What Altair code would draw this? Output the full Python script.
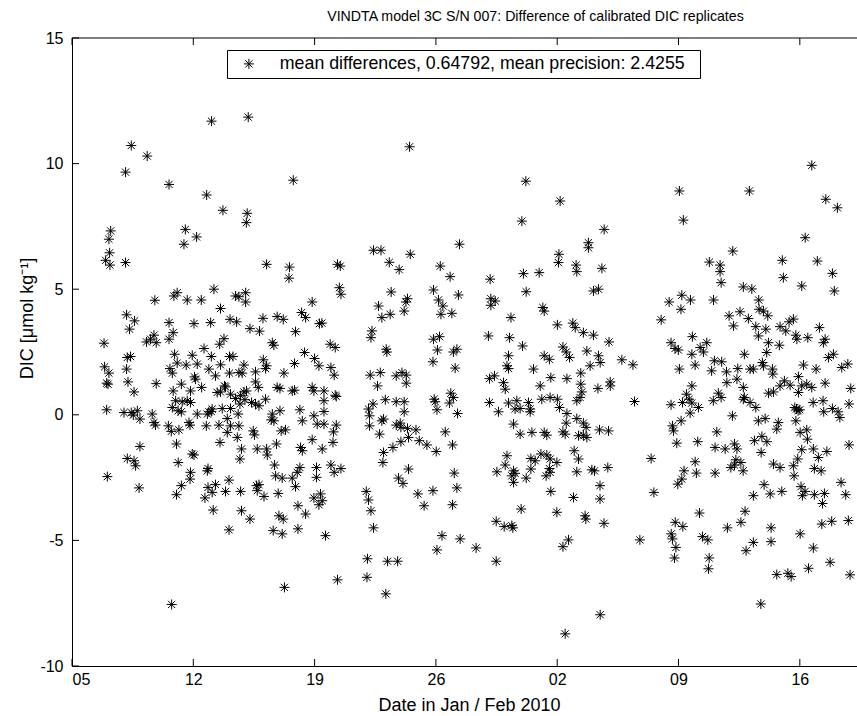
import altair as alt
import pandas as pd

TITLE = "VINDTA model 3C S/N 007: Difference of calibrated DIC replicates"
LEGEND_LABEL = "mean differences, 0.64792, mean precision: 2.4255"
X_TITLE = "Date in Jan / Feb 2010"
Y_TITLE = "DIC [\u03bcmol kg\u207b\u00b9]"

# tick positions (day of year 2010; Jan 5 = 5, Feb 2 = 33)
x_tick_days = [5, 12, 19, 26, 33, 40, 47]
y_ticks = [-10, -5, 0, 5, 10, 15]
x_domain = [5, 50.3]
y_domain = [-10, 15]

# (day of year 2010, DIC difference)
pts_high_left = [(13.05, 11.69), (15.17, 11.85), (8.42, 10.72), (9.34, 10.30), (8.09, 9.66), (10.60, 9.17),
                 (17.77, 9.34), (12.77, 8.75), (13.71, 8.14), (15.11, 8.02), (15.06, 7.65), (7.23, 7.32),
                 (7.13, 6.99), (7.17, 6.45), (6.94, 6.15), (7.19, 5.96), (8.09, 6.06), (11.54, 7.38),
                 (11.46, 6.79), (12.19, 7.08), (16.23, 5.99), (17.55, 5.88), (17.52, 5.44)]
pts_high_mid = [(24.48, 10.67), (31.19, 9.30), (33.17, 8.51), (30.96, 7.71), (20.32, 5.99), (20.48, 5.92),
                (22.40, 6.55), (22.83, 6.55), (23.31, 6.07), (23.88, 5.78), (24.52, 6.39), (27.36, 6.79),
                (26.25, 5.92), (26.82, 5.50), (29.13, 5.40), (31.05, 5.62), (31.96, 5.66), (33.10, 6.39),
                (33.07, 6.06), (34.09, 5.96), (34.13, 5.70), (34.80, 6.85), (34.80, 6.65)]
pts_high_right = [(35.71, 7.38), (35.58, 5.83), (35.38, 5.00), (40.05, 8.91), (40.28, 7.75), (44.09, 8.91),
                  (47.69, 9.93), (48.50, 8.58), (49.17, 8.24), (43.13, 6.52), (41.78, 6.08), (42.40, 5.96),
                  (42.40, 5.70), (42.46, 5.26), (45.99, 6.15), (46.05, 5.46), (48.01, 6.12), (47.31, 7.05),
                  (48.88, 5.63), (47.11, 5.13), (43.74, 5.09), (44.23, 5.01), (48.99, 4.93)]
pts_mid_left = [(9.78, 4.56), (10.88, 4.73), (11.07, 4.86), (11.65, 4.57), (12.46, 4.57), (13.19, 5.00),
                (13.57, 4.23), (14.44, 4.73), (14.63, 4.70), (15.02, 4.86), (15.02, 4.49), (18.86, 4.49),
                (8.15, 3.98), (8.61, 3.74), (8.32, 3.41), (6.85, 2.85), (9.73, 3.17), (9.53, 3.01),
                (9.30, 2.90), (9.86, 2.87), (10.60, 3.67), (10.84, 3.27), (10.60, 3.01), (12.04, 3.63),
                (13.00, 3.67), (14.12, 3.80), (14.50, 3.70), (15.27, 3.43), (15.82, 3.33), (16.02, 3.84),
                (16.84, 3.91), (17.19, 3.80), (17.90, 3.31), (18.25, 4.07), (18.48, 3.87), (19.28, 3.63),
                (13.52, 2.81), (13.77, 3.03), (12.62, 2.64), (16.56, 2.87), (16.65, 2.77), (6.88, 1.91),
                (7.13, 1.66), (7.00, 1.26), (7.08, 1.22), (8.19, 2.28), (8.38, 2.32), (8.15, 1.82),
                (8.23, 1.31), (8.58, 0.91), (9.86, 1.24), (10.92, 2.41), (11.07, 2.06), (10.65, 1.84),
                (10.79, 1.66), (11.59, 1.98), (11.94, 2.37), (12.23, 2.02), (13.04, 2.32), (12.90, 1.82),
                (13.28, 1.55), (13.57, 1.99), (14.09, 2.32), (14.29, 2.32), (14.09, 1.66), (14.63, 1.68),
                (14.82, 1.66), (14.92, 1.98), (15.59, 1.71), (16.04, 2.19), (16.23, 1.95), (16.17, 1.84),
                (17.23, 1.66), (17.84, 2.04), (18.42, 2.48), (19.00, 2.24), (19.25, 1.95), (12.07, 1.51),
                (12.13, 1.42), (11.31, 1.22), (12.48, 1.09), (10.84, 0.95), (11.84, 0.95), (13.80, 1.15),
                (13.86, 1.11), (13.57, 0.91), (13.38, 0.89), (14.92, 0.91), (15.07, 0.95), (15.59, 1.31),
                (15.75, 1.09), (16.84, 1.09), (17.00, 1.05), (17.71, 0.95), (17.84, 0.98), (18.86, 1.09),
                (18.96, 0.95), (19.54, 0.95), (16.17, 0.62), (10.98, 0.56), (11.36, 0.52), (11.65, 0.56),
                (11.84, 0.49), (10.79, 0.29), (11.12, 0.16), (11.31, 0.12), (14.15, 0.82), (14.44, 0.65),
                (14.73, 0.76), (14.98, 0.60), (14.69, 0.43), (15.36, 0.49), (15.59, 0.43), (15.79, 0.36),
                (13.09, 0.23), (12.90, 0.12), (13.67, 0.25), (14.15, 0.25), (19.54, 0.56), (7.00, 0.20),
                (8.00, 0.09), (8.42, 0.09), (8.54, -0.01), (8.77, 0.16), (8.92, -0.17), (9.63, 0.03),
                (9.73, -0.31), (9.82, -0.41), (10.56, -0.44), (10.73, -0.66), (11.17, -0.60), (11.75, -0.31),
                (11.81, -0.41), (12.23, 0.03), (12.81, 0.03), (13.04, 0.13), (12.75, -0.44), (13.48, -0.41),
                (13.96, -0.15), (13.96, -0.70), (14.15, -0.44), (14.59, 0.03), (14.63, -0.44), (14.54, -0.90),
                (15.46, -0.64), (15.53, -0.80), (16.56, 0.03), (16.65, -0.24), (16.50, -0.20), (17.00, 0.16),
                (17.07, -0.64), (17.32, -0.60), (18.15, 0.20), (18.29, -0.24), (18.96, -0.04), (19.15, -0.37),
                (19.54, -0.37), (19.54, 0.13), (13.54, -1.10), (11.03, -1.16), (8.92, -1.26), (18.86, -0.99),
                (11.94, -1.56), (12.04, -1.60), (14.78, -1.36), (14.69, -1.76), (15.69, -1.36), (16.23, -1.36),
                (16.27, -1.60), (16.80, -1.16), (18.19, -1.30), (18.29, -1.43), (19.44, -1.36), (8.19, -1.74),
                (8.58, -1.83), (8.67, -2.03), (11.13, -1.90), (12.85, -2.14), (12.81, -2.23), (11.84, -2.29),
                (16.69, -2.00), (18.15, -2.10), (18.00, -2.29), (19.11, -2.10), (7.04, -2.46)]
pts_low_left = [(8.87, -2.91), (11.03, -3.18), (11.31, -2.82), (11.81, -2.56), (12.85, -2.89), (13.09, -3.09),
                (12.67, -3.31), (13.28, -2.78), (13.15, -3.79), (13.86, -3.05), (14.06, -2.60), (14.73, -3.05),
                (14.78, -3.82), (15.27, -4.15), (14.06, -4.58), (15.65, -2.82), (15.69, -3.02), (15.79, -2.78),
                (16.08, -3.25), (16.75, -2.43), (17.13, -2.52), (16.90, -3.13), (16.94, -4.02), (17.19, -4.15),
                (16.61, -4.61), (17.13, -4.74), (17.71, -2.52), (17.90, -2.86), (18.04, -3.62), (18.48, -3.95),
                (18.04, -4.54), (19.11, -2.49), (18.96, -3.31), (19.34, -3.15), (19.44, -3.42), (19.25, -3.58),
                (19.63, -4.81), (10.75, -7.55), (17.26, -6.87)]
pts_mid_center = [(20.43, 5.06), (20.52, 4.80), (23.42, 4.89), (24.36, 4.62), (24.27, 4.49), (22.69, 4.33),
                  (22.88, 3.87), (23.36, 4.00), (24.17, 4.13), (25.86, 4.97), (26.15, 4.57), (26.40, 4.33),
                  (26.29, 4.00), (26.92, 4.04), (27.30, 4.77), (29.17, 4.62), (29.42, 4.53), (29.17, 4.36),
                  (31.21, 4.90), (32.17, 4.27), (32.25, 4.13), (30.33, 3.87), (33.01, 3.58), (33.90, 3.65),
                  (34.04, 3.47), (34.51, 3.27), (19.42, 3.65), (22.31, 3.34), (22.25, 3.07), (19.90, 2.81),
                  (20.19, 2.68), (23.13, 2.61), (23.17, 2.50), (25.86, 3.01), (26.21, 3.11), (26.09, 2.58),
                  (27.01, 2.50), (27.21, 2.61), (25.83, 2.11), (27.11, 1.86), (29.03, 3.14), (30.25, 3.07),
                  (31.00, 2.74), (30.19, 2.35), (30.10, 1.95), (30.19, 1.84), (31.63, 1.82), (32.25, 2.35),
                  (32.55, 2.21), (33.33, 2.70), (33.52, 2.50), (33.71, 2.28), (34.71, 2.54), (19.94, 1.88),
                  (20.13, 1.58), (22.21, 1.58), (22.79, 1.68), (22.63, 1.15), (23.71, 1.55), (24.04, 1.68),
                  (24.29, 1.58), (24.29, 1.26), (20.19, 0.78), (20.25, 0.73), (20.09, -0.68), (20.25, -0.41),
                  (20.06, -1.10), (22.11, 0.23), (22.37, 0.43), (22.17, -0.04), (22.17, -0.44), (22.75, -0.77),
                  (23.08, 0.60), (22.88, -0.24), (22.98, -0.17), (23.71, 0.52), (24.17, 0.52), (24.17, 0.12),
                  (23.71, -0.41), (23.94, -0.33), (23.98, -0.50), (24.36, -0.54), (24.85, -0.60), (24.42, -0.90),
                  (23.98, -1.07), (23.52, -1.30), (25.04, -1.03), (25.48, -1.20), (26.02, -1.46), (22.98, -1.50),
                  (22.94, -1.90), (24.42, -2.16), (25.90, 0.62), (25.96, 0.52), (26.06, 0.20), (26.86, 0.86),
                  (27.01, 0.69), (26.78, 0.47), (27.25, 0.05), (26.54, -0.68), (26.96, -1.20), (29.09, 1.44),
                  (29.38, 1.55), (29.90, 1.28), (30.00, 1.02), (29.09, 0.49), (29.61, 0.12), (30.19, 0.47),
                  (30.67, 0.56), (30.86, 0.25), (30.57, 0.23), (31.34, 0.49), (31.44, 0.23), (31.44, 0.12),
                  (32.11, 0.62), (32.59, 0.69), (33.01, 0.62), (33.13, 0.29), (32.02, 1.15), (32.63, 1.48),
                  (33.56, 1.44), (34.13, 0.56), (34.32, 0.69), (34.42, 0.91), (34.36, 1.22), (34.36, 1.66),
                  (33.56, 0.05), (33.52, -0.33), (34.13, -0.15), (34.51, -0.33), (30.48, -0.37), (30.86, -0.77),
                  (31.54, -0.70), (32.25, -0.70), (32.40, -0.81), (33.33, -0.68), (33.46, -0.77), (34.23, -0.83),
                  (34.51, -0.81), (33.98, -1.43), (34.23, -1.76), (30.10, -1.63), (30.00, -2.00), (31.48, -1.74),
                  (31.73, -1.83), (32.06, -1.56), (32.40, -1.60), (32.59, -1.76), (32.98, -1.90), (32.55, -2.14),
                  (31.48, -2.16), (30.48, -2.23), (29.52, -2.27), (34.13, -2.27), (19.94, -2.00), (20.52, -2.14),
                  (20.13, -2.29), (27.06, -2.32)]
pts_low_center = [(21.98, -3.05), (22.11, -3.39), (22.25, -3.82), (22.40, -4.50), (23.84, -2.52), (24.10, -2.73),
                  (24.96, -3.15), (25.32, -3.62), (25.83, -3.02), (27.21, -2.91), (26.96, -3.58), (26.35, -4.81),
                  (26.06, -5.38), (27.40, -4.94), (28.32, -5.30), (22.05, -5.73), (23.21, -5.83), (23.79, -5.83),
                  (20.32, -6.57), (22.02, -6.47), (23.11, -7.13), (29.48, -5.83), (29.48, -4.24), (29.94, -4.45),
                  (30.44, -4.50), (30.38, -4.41), (30.92, -3.75), (30.38, -2.43), (30.48, -2.69), (30.57, -2.33),
                  (31.21, -2.52), (32.36, -2.43), (32.59, -2.29), (32.63, -3.05), (32.98, -3.88), (33.94, -3.29),
                  (34.61, -4.02), (34.65, -4.15), (33.65, -4.98), (33.33, -5.25), (33.46, -8.72)]
pts_mid_right = [(35.09, 4.93), (40.19, 4.76), (39.46, 4.49), (40.14, 4.20), (40.69, 4.57), (42.02, 4.57),
                 (44.63, 4.57), (39.00, 3.78), (42.92, 3.94), (43.17, 3.54), (43.55, 4.10), (44.03, 3.83),
                 (44.65, 4.20), (44.90, 4.13), (45.15, 3.94), (44.46, 3.51), (44.61, 3.14), (45.04, 3.41),
                 (45.86, 3.51), (46.19, 3.34), (46.38, 3.70), (46.63, 3.81), (46.77, 3.17), (46.83, 3.01),
                 (47.46, 3.07), (48.13, 3.47), (48.46, 3.01), (48.36, 2.87), (45.19, 2.87), (45.82, 2.77),
                 (45.09, 2.48), (35.09, 3.17), (35.99, 2.90), (35.38, 2.35), (35.48, 2.08), (34.90, 1.95),
                 (36.73, 2.19), (37.37, 1.99), (39.57, 2.87), (39.80, 2.64), (39.99, 2.58), (40.80, 3.11),
                 (41.25, 2.68), (41.44, 2.50), (41.63, 2.87), (40.77, 2.41), (43.80, 2.41), (48.94, 2.41),
                 (48.65, 2.28), (40.96, 1.98), (40.05, 1.82), (42.07, 2.15), (42.49, 2.11), (41.91, 1.75),
                 (42.77, 1.71), (43.42, 1.84), (42.79, 1.28), (43.37, 1.42), (44.13, 1.82), (44.32, 1.82),
                 (44.84, 2.08), (44.90, 1.95), (45.42, 1.82), (45.44, 1.62), (47.21, 1.98), (47.94, 1.82),
                 (49.42, 1.88), (49.77, 2.02), (46.92, 1.52), (48.46, 1.26), (49.94, 1.05), (36.06, 1.31),
                 (36.06, 1.15), (35.35, 1.05), (37.46, 0.53), (40.77, 1.15), (40.46, 0.82), (40.61, 0.62),
                 (40.77, 0.47), (40.23, 0.49), (39.57, 0.40), (41.15, 0.29), (40.67, 0.07), (40.15, -0.24),
                 (39.65, -0.44), (39.71, -0.64), (42.01, 0.56), (42.30, 0.86), (42.46, 0.69), (43.74, 1.09),
                 (43.80, 0.69), (44.13, 0.49), (44.46, 0.29), (43.74, 0.62), (45.19, 0.86), (45.48, 0.91),
                 (45.86, 1.15), (46.11, 1.35), (46.44, 1.18), (46.92, 0.89), (47.11, 1.15), (47.40, 1.22),
                 (47.69, 1.09), (46.71, 0.29), (46.90, 0.16), (46.81, 0.23), (47.00, 0.20), (47.77, 0.49),
                 (48.34, 0.56), (48.38, 0.12), (48.88, 0.25), (49.21, 0.12), (49.31, -0.11), (49.84, 0.43),
                 (46.77, -0.24), (47.40, -0.60), (47.44, -0.97), (47.02, -0.70), (43.11, -0.04), (44.61, -0.24),
                 (45.00, -0.15), (45.67, -0.57), (45.76, -0.31), (42.21, -0.68), (35.44, -0.60), (35.96, -0.64),
                 (34.67, -0.50), (34.71, -0.90), (39.90, -1.13), (41.11, -1.07), (42.11, -1.30), (42.69, -1.36),
                 (43.23, -1.16), (43.37, -1.36), (43.31, -1.79), (43.23, -2.00), (44.38, -1.03), (44.81, -0.86),
                 (45.10, -1.07), (44.77, -1.50), (47.11, -1.39), (47.78, -1.36), (48.07, -1.70), (48.56, -1.46),
                 (49.84, -1.20), (38.42, -1.74), (40.96, -1.87), (35.00, -2.19), (35.15, -2.23), (35.92, -2.10),
                 (40.32, -2.23), (41.03, -2.32), (42.11, -2.32), (43.02, -2.10), (43.60, -1.90), (43.73, -2.23),
                 (45.48, -1.96), (45.86, -2.10), (46.63, -2.03), (46.88, -1.76), (47.84, -2.14), (48.23, -2.23)]
pts_low_right = [(35.47, -2.82), (35.47, -3.35), (35.70, -4.32), (38.58, -3.09), (37.77, -4.98), (40.19, -2.56),
                 (39.96, -2.76), (41.21, -3.91), (39.81, -4.28), (40.25, -4.45), (39.58, -4.74), (39.65, -4.94),
                 (39.85, -5.28), (39.77, -5.70), (41.38, -4.85), (41.69, -4.98), (41.77, -5.70), (41.73, -6.13),
                 (42.82, -4.50), (43.60, -4.28), (43.84, -3.84), (44.32, -3.22), (44.94, -2.78), (45.29, -3.15),
                 (45.96, -3.05), (43.90, -5.41), (44.32, -5.08), (45.34, -4.50), (45.34, -5.05), (46.67, -2.43),
                 (47.07, -2.86), (47.30, -3.05), (47.15, -3.22), (47.84, -3.18), (48.42, -3.13), (48.31, -3.53),
                 (49.38, -2.69), (49.65, -3.18), (47.02, -4.74), (48.27, -4.35), (48.84, -4.24), (49.80, -4.21),
                 (47.78, -5.30), (48.75, -5.87), (45.67, -6.36), (46.31, -6.31), (46.50, -6.44), (47.50, -6.11),
                 (49.90, -6.37), (44.75, -7.53), (35.48, -7.96)]

blocks = [pts_high_left, pts_high_mid, pts_high_right, pts_mid_left, pts_low_left,
          pts_mid_center, pts_low_center, pts_mid_right, pts_low_right]
rows = [{"day": d, "dic": v, "series": LEGEND_LABEL} for b in blocks for d, v in b]
df = pd.DataFrame(rows)

W, H = 785, 628
FONT = "Liberation Sans"
STAR = "M-1,0L1,0M0,-1L0,1M-0.72,-0.72L0.72,0.72M-0.72,0.72L0.72,-0.72"

xscale = alt.Scale(domain=x_domain, nice=False, zero=False)
yscale = alt.Scale(domain=y_domain, nice=False, zero=False)

xaxis = alt.Axis(values=x_tick_days, ticks=False, grid=False, domain=True,
                 domainColor="black", domainWidth=1,
                 labelExpr="timeFormat(datetime(2010, 0, datum.value), '%d')",
                 labelFont=FONT, labelFontSize=16, labelColor="black", labelPadding=5,
                 title=X_TITLE, titleFont=FONT, titleFontSize=18, titleFontWeight="normal",
                 titleColor="black", titleX=397, titleY=44, titleBaseline="alphabetic",
                 titleAlign="center")
yaxis = alt.Axis(values=y_ticks, ticks=False, grid=False, domain=True,
                 domainColor="black", domainWidth=1,
                 labelExpr="'' + datum.value",
                 labelFont=FONT, labelFontSize=16, labelColor="black", labelPadding=9,
                 title=Y_TITLE, titleFont=FONT, titleFontSize=18, titleFontWeight="normal",
                 titleColor="black", titleX=-45, titleY=280, titleAlign="center",
                 titleBaseline="middle", titleAngle=270)

points = alt.Chart(df).mark_point(
    shape=STAR, filled=False, size=100, strokeWidth=1, opacity=1
).encode(
    x=alt.X("day:Q", scale=xscale, axis=xaxis),
    y=alt.Y("dic:Q", scale=yscale, axis=yaxis),
    color=alt.Color("series:N", scale=alt.Scale(range=["black"]),
                    legend=alt.Legend(title=None, orient="none", legendX=155, legendY=12,
                                      strokeColor="black", fillColor="white", padding=5,
                                      symbolType=STAR, symbolSize=100, symbolStrokeWidth=1,
                                      symbolFillColor="transparent", symbolStrokeColor="black",
                                      symbolOffset=8, labelOffset=22, labelLimit=700,
                                      labelExpr="datum.label + '\u00a0\u00a0\u200b'",
                                      labelFont=FONT, labelFontSize=17.8, labelColor="black")),
)

xt = pd.DataFrame({"day": x_tick_days})
yt = pd.DataFrame({"dic": y_ticks})
one = pd.DataFrame({"k": [0]})

bottom_ticks = alt.Chart(xt).mark_rule(color="black", strokeWidth=1).encode(
    x=alt.X("day:Q", scale=xscale, axis=xaxis), y=alt.value(H), y2=alt.value(H - 7))
top_ticks = alt.Chart(xt).mark_rule(color="black", strokeWidth=1).encode(
    x=alt.X("day:Q", scale=xscale, axis=xaxis), y=alt.value(0), y2=alt.value(7))
left_ticks = alt.Chart(yt).mark_rule(color="black", strokeWidth=1).encode(
    y=alt.Y("dic:Q", scale=yscale, axis=yaxis), x=alt.value(0), x2=alt.value(7))
top_border = alt.Chart(one).mark_rule(color="black", strokeWidth=1).encode(
    x=alt.value(0), x2=alt.value(W), y=alt.value(0))

chart = alt.layer(points, bottom_ticks, top_ticks, left_ticks, top_border).properties(
    width=W, height=H,
    title=alt.Title(TITLE, font=FONT, fontSize=14.2, fontWeight="normal", color="black",
                    anchor="middle", frame="group", dx=71, dy=22, offset=17, baseline="alphabetic"),
    padding={"left": 72, "top": 38, "right": 0, "bottom": 50},
    autosize=alt.AutoSizeParams(type="none"),
    background="white",
).configure_view(strokeWidth=0)

chart.save("out.html", embed_options={"renderer": "svg", "actions": False})
